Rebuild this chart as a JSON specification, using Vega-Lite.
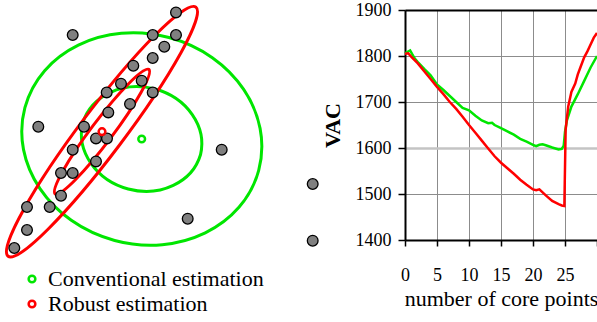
{
  "$schema": "https://vega.github.io/schema/vega-lite/v6.json",
  "padding": {"left": 0, "top": 0, "right": 0, "bottom": 0},
  "spacing": 84,
  "bounds": "flush",
  "background": "white",
  "config": {"view": {"stroke": null}, "font": "Liberation Serif"},
  "resolve": {"scale": {"stroke": "independent"}, "legend": {"stroke": "independent"}},
  "datasets": {
    "ellipses": [
      {"ellipse": "conv_outer", "method": "Conventional estimation", "x": 140.8, "y": 101},
      {"ellipse": "conv_inner", "method": "Conventional estimation", "x": 140.6, "y": 101},
      {"ellipse": "rob_outer", "method": "Robust estimation", "x": 101, "y": 108.3},
      {"ellipse": "rob_inner", "method": "Robust estimation", "x": 101, "y": 108.3}
    ],
    "centers": [
      {"method": "Conventional estimation", "x": 140.7, "y": 101},
      {"method": "Robust estimation", "x": 101, "y": 108.3}
    ],
    "samples": [
      {"x": 175, "y": 227.6}, {"x": 71.7, "y": 205}, {"x": 151.7, "y": 205}, {"x": 175, "y": 205},
      {"x": 163.3, "y": 193.3}, {"x": 151.7, "y": 182}, {"x": 132.3, "y": 174.3}, {"x": 120, "y": 156.3},
      {"x": 140.7, "y": 159.3}, {"x": 105.7, "y": 147.6}, {"x": 151.7, "y": 147.6}, {"x": 129, "y": 136},
      {"x": 107.3, "y": 127.6}, {"x": 37.3, "y": 113.3}, {"x": 83, "y": 113.3}, {"x": 95, "y": 101.6},
      {"x": 106, "y": 101.6}, {"x": 71.7, "y": 90.3}, {"x": 220.7, "y": 90.3}, {"x": 95, "y": 78.6},
      {"x": 60, "y": 67}, {"x": 71.7, "y": 67}, {"x": 60, "y": 44.3}, {"x": 26, "y": 33},
      {"x": 48.7, "y": 33}, {"x": 186.7, "y": 21.3}, {"x": 26, "y": 10}, {"x": 13.3, "y": -8},
      {"x": 311.7, "y": 56}, {"x": 311.7, "y": -0.7}
    ],
    "vac": [
      {"method": "Conventional estimation", "n": 0, "vac": 1806},
      {"method": "Conventional estimation", "n": 0.8, "vac": 1812},
      {"method": "Conventional estimation", "n": 1.5, "vac": 1795},
      {"method": "Conventional estimation", "n": 2, "vac": 1787},
      {"method": "Conventional estimation", "n": 3, "vac": 1772},
      {"method": "Conventional estimation", "n": 4, "vac": 1758},
      {"method": "Conventional estimation", "n": 5, "vac": 1738},
      {"method": "Conventional estimation", "n": 6, "vac": 1726},
      {"method": "Conventional estimation", "n": 7, "vac": 1713},
      {"method": "Conventional estimation", "n": 8, "vac": 1700},
      {"method": "Conventional estimation", "n": 9, "vac": 1687},
      {"method": "Conventional estimation", "n": 10, "vac": 1682},
      {"method": "Conventional estimation", "n": 11, "vac": 1670},
      {"method": "Conventional estimation", "n": 12, "vac": 1660},
      {"method": "Conventional estimation", "n": 13, "vac": 1654},
      {"method": "Conventional estimation", "n": 13.6, "vac": 1655},
      {"method": "Conventional estimation", "n": 14, "vac": 1650},
      {"method": "Conventional estimation", "n": 15, "vac": 1643},
      {"method": "Conventional estimation", "n": 16, "vac": 1636},
      {"method": "Conventional estimation", "n": 17, "vac": 1629},
      {"method": "Conventional estimation", "n": 18, "vac": 1620},
      {"method": "Conventional estimation", "n": 19, "vac": 1614},
      {"method": "Conventional estimation", "n": 20, "vac": 1607},
      {"method": "Conventional estimation", "n": 20.5, "vac": 1604},
      {"method": "Conventional estimation", "n": 21, "vac": 1607},
      {"method": "Conventional estimation", "n": 21.5, "vac": 1608},
      {"method": "Conventional estimation", "n": 22, "vac": 1606},
      {"method": "Conventional estimation", "n": 23, "vac": 1601},
      {"method": "Conventional estimation", "n": 24, "vac": 1597},
      {"method": "Conventional estimation", "n": 24.5, "vac": 1598},
      {"method": "Conventional estimation", "n": 24.8, "vac": 1605},
      {"method": "Conventional estimation", "n": 25, "vac": 1635},
      {"method": "Conventional estimation", "n": 25.3, "vac": 1660},
      {"method": "Conventional estimation", "n": 26, "vac": 1690},
      {"method": "Conventional estimation", "n": 27, "vac": 1717},
      {"method": "Conventional estimation", "n": 28, "vac": 1746},
      {"method": "Conventional estimation", "n": 29, "vac": 1775},
      {"method": "Conventional estimation", "n": 30, "vac": 1800},
      {"method": "Robust estimation", "n": 0, "vac": 1805},
      {"method": "Robust estimation", "n": 0.5, "vac": 1806},
      {"method": "Robust estimation", "n": 1, "vac": 1798},
      {"method": "Robust estimation", "n": 2, "vac": 1784},
      {"method": "Robust estimation", "n": 3, "vac": 1767},
      {"method": "Robust estimation", "n": 4, "vac": 1750},
      {"method": "Robust estimation", "n": 5, "vac": 1733},
      {"method": "Robust estimation", "n": 6, "vac": 1717},
      {"method": "Robust estimation", "n": 7, "vac": 1700},
      {"method": "Robust estimation", "n": 8, "vac": 1685},
      {"method": "Robust estimation", "n": 9, "vac": 1668},
      {"method": "Robust estimation", "n": 10, "vac": 1650},
      {"method": "Robust estimation", "n": 11, "vac": 1633},
      {"method": "Robust estimation", "n": 12, "vac": 1616},
      {"method": "Robust estimation", "n": 13, "vac": 1599},
      {"method": "Robust estimation", "n": 14, "vac": 1582},
      {"method": "Robust estimation", "n": 15, "vac": 1568},
      {"method": "Robust estimation", "n": 16, "vac": 1556},
      {"method": "Robust estimation", "n": 17, "vac": 1544},
      {"method": "Robust estimation", "n": 18, "vac": 1531},
      {"method": "Robust estimation", "n": 19, "vac": 1520},
      {"method": "Robust estimation", "n": 20, "vac": 1510},
      {"method": "Robust estimation", "n": 20.5, "vac": 1508},
      {"method": "Robust estimation", "n": 21, "vac": 1510},
      {"method": "Robust estimation", "n": 22, "vac": 1497},
      {"method": "Robust estimation", "n": 23, "vac": 1485},
      {"method": "Robust estimation", "n": 24, "vac": 1478},
      {"method": "Robust estimation", "n": 24.5, "vac": 1475},
      {"method": "Robust estimation", "n": 24.9, "vac": 1474},
      {"method": "Robust estimation", "n": 25.1, "vac": 1640},
      {"method": "Robust estimation", "n": 25.5, "vac": 1690},
      {"method": "Robust estimation", "n": 26, "vac": 1722},
      {"method": "Robust estimation", "n": 26.6, "vac": 1740},
      {"method": "Robust estimation", "n": 27, "vac": 1760},
      {"method": "Robust estimation", "n": 27.4, "vac": 1775},
      {"method": "Robust estimation", "n": 28, "vac": 1797},
      {"method": "Robust estimation", "n": 28.5, "vac": 1810},
      {"method": "Robust estimation", "n": 29, "vac": 1825},
      {"method": "Robust estimation", "n": 29.5, "vac": 1840},
      {"method": "Robust estimation", "n": 30, "vac": 1850}
    ]
  },
  "hconcat": [
    {
      "width": 320,
      "height": 230,
      "layer": [
        {
          "data": {"name": "ellipses"},
          "transform": [{"filter": "datum.method == 'Conventional estimation'"}],
          "mark": {"type": "point", "filled": false, "size": 4, "stroke": "#00e600", "strokeWidth": 3, "opacity": 1},
          "encoding": {
            "x": {"field": "x", "type": "quantitative", "scale": {"domain": [0, 320], "nice": false, "zero": false}, "axis": null},
            "y": {"field": "y", "type": "quantitative", "scale": {"domain": [0, 230], "nice": false, "zero": false}, "axis": null},
            "shape": {"field": "ellipse", "type": "nominal", "legend": null,
              "scale": {"domain": ["conv_outer", "conv_inner", "rob_outer", "rob_inner"],
                "range": [
                  "M116.9,31.3A121,105,15,0,1,-116.9,-31.3A121,105,15,0,1,116.9,31.3Z",
                  "M58.9,15.8A61,53,15,0,1,-58.9,-15.8A61,53,15,0,1,58.9,15.8Z",
                  "M93.9,-124.6A156,22,-53,0,1,-93.9,124.6A156,22,-53,0,1,93.9,-124.6Z",
                  "M46.9,-62.3A78,11,-53,0,1,-46.9,62.3A78,11,-53,0,1,46.9,-62.3Z"
                ]}}
          }
        },
        {
          "data": {"name": "ellipses"},
          "transform": [{"filter": "datum.method == 'Robust estimation'"}],
          "mark": {"type": "point", "filled": false, "size": 4, "stroke": "#ff0000", "strokeWidth": 3, "opacity": 1},
          "encoding": {
            "x": {"field": "x", "type": "quantitative"},
            "y": {"field": "y", "type": "quantitative"},
            "shape": {"field": "ellipse", "type": "nominal", "legend": null}
          }
        },
        {
          "data": {"name": "samples"},
          "mark": {"type": "circle", "size": 115, "fill": "#808080", "stroke": "#000000", "strokeWidth": 1.3, "opacity": 1},
          "encoding": {
            "x": {"field": "x", "type": "quantitative"},
            "y": {"field": "y", "type": "quantitative"}
          }
        },
        {
          "data": {"name": "centers"},
          "mark": {"type": "point", "filled": false, "shape": "circle", "size": 45, "strokeWidth": 2.5, "opacity": 1},
          "encoding": {
            "x": {"field": "x", "type": "quantitative"},
            "y": {"field": "y", "type": "quantitative"},
            "stroke": {"field": "method", "type": "nominal",
              "scale": {"domain": ["Conventional estimation", "Robust estimation"], "range": ["#00e600", "#ff0000"]},
              "legend": {"title": null, "orient": "none", "legendX": 20, "legendY": 258, "padding": 0,
                "labelFont": "Liberation Serif", "labelFontSize": 22, "labelColor": "black", "labelLimit": 0,
                "labelOffset": 5, "rowPadding": 3, "symbolType": "circle", "symbolSize": 45,
                "symbolStrokeWidth": 2.5, "symbolFillColor": "white"}}
          }
        }
      ]
    },
    {
      "width": 192,
      "height": 230,
      "data": {"name": "vac"},
      "resolve": {"axis": {"x": "independent"}},
      "layer": [
        {
          "mark": {"type": "line", "strokeWidth": 2.5},
          "encoding": {
            "x": {"field": "n", "type": "quantitative", "scale": {"domain": [0, 30], "nice": false},
              "axis": {"orient": "bottom", "title": "number of core points", "titleFont": "Liberation Serif",
                "titleFontSize": 22, "titleFontWeight": "normal", "titleColor": "black", "titlePadding": 4,
                "values": [0, 5, 10, 15, 20, 25, 30], "labelExpr": "datum.value == 30 ? '' : datum.label",
                "labelFont": "Liberation Serif", "labelFontSize": 18, "labelColor": "black", "labelPadding": 20,
                "labelFlush": false, "labelOverlap": false,
                "tickSize": 6, "tickColor": "black", "tickWidth": 1.5,
                "domainColor": "black", "domainWidth": 2,
                "grid": true, "gridColor": "#8c8c8c", "gridWidth": 1}},
            "y": {"field": "vac", "type": "quantitative", "scale": {"domain": [1400, 1900], "nice": false, "zero": false},
              "axis": {"title": "VAC", "titleFont": "Liberation Serif", "titleFontSize": 22, "titleFontWeight": "bold",
                "titleColor": "black", "titlePadding": 11, "format": "d",
                "values": [1400, 1500, 1600, 1700, 1800, 1900],
                "labelFont": "Liberation Serif", "labelFontSize": 18, "labelColor": "black", "labelPadding": 7,
                "tickSize": 7, "tickColor": "black", "tickWidth": 1.5,
                "domainColor": "black", "domainWidth": 2,
                "grid": true,
                "gridColor": {"condition": {"test": "datum.value == 1600", "value": "#c4c4c4"}, "value": "#8c8c8c"},
                "gridWidth": {"condition": {"test": "datum.value == 1600", "value": 2.5}, "value": 1}}},
            "stroke": {"field": "method", "type": "nominal",
              "scale": {"domain": ["Conventional estimation", "Robust estimation"], "range": ["#00e600", "#ff0000"]},
              "legend": null}
          }
        },
        {
          "mark": {"type": "line", "strokeOpacity": 0},
          "encoding": {
            "x": {"field": "n", "type": "quantitative",
              "axis": {"orient": "top", "title": null, "labels": false, "ticks": false, "grid": false,
                "domainColor": "black", "domainWidth": 2}},
            "y": {"field": "vac", "type": "quantitative"},
            "detail": {"field": "method", "type": "nominal"}
          }
        }
      ]
    }
  ]
}
